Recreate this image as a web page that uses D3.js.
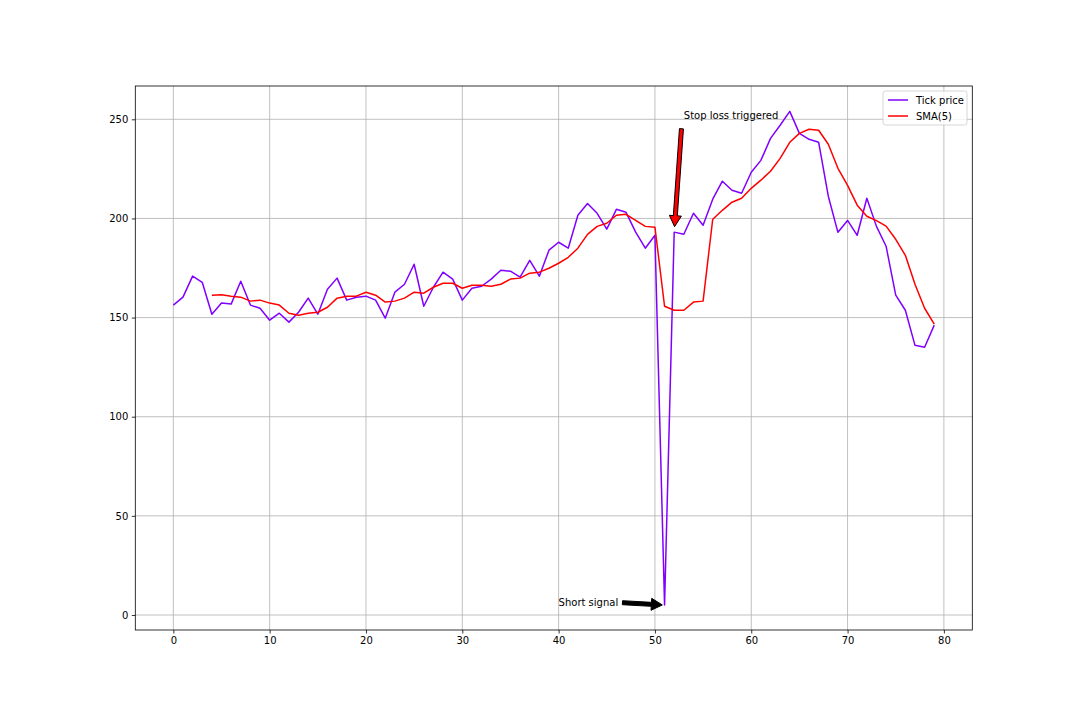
<!DOCTYPE html>
<html><head><meta charset="utf-8">
<script src="https://cdn.jsdelivr.net/npm/d3@7"></script>
<style>body{margin:0;background:#fff;} text{font-family:"DejaVu Sans",sans-serif;}</style>
</head><body><svg id="chart" width="1080" height="720"></svg>
<script>
const tickPrice = [156.3,160.3,170.9,167.8,151.7,157.3,156.8,168.3,156.3,154.7,
148.7,152.2,147.7,152.7,159.8,151.7,164.3,169.9,158.8,160.3,
160.8,158.8,149.7,162.8,166.8,176.9,155.7,165.3,172.9,169.4,
158.8,164.8,165.8,169.4,173.9,173.4,170.4,178.9,170.9,184.0,
188.0,185.0,201.6,207.5,202.6,194.6,204.6,203.1,193.1,185.0,
191.5,5.0,193.1,192.0,202.6,196.6,209.7,218.8,214.2,212.7,
223.3,229.3,240.4,247.0,254.0,242.9,239.9,238.4,211.2,193.0,
199.0,191.5,210.2,196.0,186.0,161.3,153.7,136.0,135.0,146.2];
const smaStart = 4;
const sma5 = [161.3,161.5,160.8,160.3,158.3,158.8,157.3,156.3,152.2,151.2,
152.2,152.7,155.2,159.8,160.8,160.8,162.8,161.3,157.8,158.3,
159.8,162.8,162.3,165.3,167.3,167.3,164.8,166.3,166.3,165.8,
166.8,169.4,169.9,172.4,172.9,174.9,177.4,180.4,185.0,192.0,
196.0,197.6,201.6,202.1,199.0,196.0,195.6,155.7,153.7,153.7,
157.8,158.3,199.6,204.1,208.2,210.2,215.2,219.3,223.8,230.3,
238.4,242.9,245.0,244.5,237.4,225.3,216.7,206.7,201.1,198.9,
196.1,189.5,181.4,166.8,154.7,146.7];
const xTicks = [0,10,20,30,40,50,60,70,80];
const yTicks = [0,50,100,150,200,250];
const seriesNames = ["Tick price","SMA(5)"];
const seriesColors = ["#8000ff","#ff0000"];
const annotations = [
  {text:"Short signal", xi:51, tx:40, ty:4.5, fill:"#000000"},
  {text:"Stop loss triggered", xi:52, tx:53, ty:250, fill:"#ff0000"}
];

const svg = d3.select("#chart");
const L=135.3, R=972.3, T=86, B=630;
const x = d3.scaleLinear().domain([-3.95,82.95]).range([L,R]);
const y = d3.scaleLinear().domain([-7.57,266.8]).range([B,T]);

// grid
const g = svg.append("g");
g.selectAll(".vg").data(xTicks).join("line")
 .attr("x1",d=>x(d)).attr("x2",d=>x(d)).attr("y1",T).attr("y2",B)
 .attr("stroke","#b0b0b0").attr("stroke-width",0.8);
g.selectAll(".hg").data(yTicks).join("line")
 .attr("y1",d=>y(d)).attr("y2",d=>y(d)).attr("x1",L).attr("x2",R)
 .attr("stroke","#b0b0b0").attr("stroke-width",0.8);

// axes
const xAxis = d3.axisBottom(x).tickValues(xTicks).tickSize(3.5).tickPadding(3.5).tickFormat(d3.format("d"));
const yAxis = d3.axisLeft(y).tickValues(yTicks).tickSize(3.5).tickPadding(3.5).tickFormat(d3.format("d"));
const gx = svg.append("g").attr("transform",`translate(0,${B})`).call(xAxis);
const gy = svg.append("g").attr("transform",`translate(${L},0)`).call(yAxis);
[gx,gy].forEach(a=>{
  a.select(".domain").remove();
  a.selectAll("line").attr("stroke","#000").attr("stroke-width",0.8);
  a.selectAll("text").attr("font-size",10).attr("fill","#000").style("font-family","DejaVu Sans");
});

// lines
const clip = svg.append("clipPath").attr("id","clip").append("rect")
 .attr("x",L).attr("y",T).attr("width",R-L).attr("height",B-T);
const line = d3.line().x(d=>x(d[0])).y(d=>y(d[1]));
svg.append("path").datum(tickPrice.map((v,i)=>[i,v]))
 .attr("d",line).attr("fill","none").attr("stroke",seriesColors[0]).attr("stroke-width",1.5)
 .attr("stroke-linejoin","round").attr("clip-path","url(#clip)");
svg.append("path").datum(sma5.map((v,i)=>[i+smaStart,v]))
 .attr("d",line).attr("fill","none").attr("stroke",seriesColors[1]).attr("stroke-width",1.5)
 .attr("stroke-linejoin","round").attr("clip-path","url(#clip)");

// spines
svg.append("rect").attr("x",L).attr("y",T).attr("width",R-L).attr("height",B-T)
 .attr("fill","none").attr("stroke","#000").attr("stroke-width",0.8);

// annotations
annotations.forEach(a=>{
  const t = svg.append("text").attr("x",x(a.tx)).attr("y",y(a.ty))
   .attr("font-size",10).attr("fill","#000").text(a.text);
  const b0 = t.node().getBBox();
  const pad = 2;
  const bb = {x:b0.x-pad, y:b0.y-pad, width:b0.width+2*pad, height:b0.height+2*pad};
  const px = x(a.xi), py = y(tickPrice[a.xi]);
  const cands = (lo,w,target)=>{const c=[lo,lo+w/2,lo+w];return c.reduce((p,q)=>Math.abs(q-target)<Math.abs(p-target)?q:p);};
  const sx = cands(bb.x,bb.width,px), sy = cands(bb.y,bb.height,py);
  const dx=px-sx, dy=py-sy, len=Math.hypot(dx,dy);
  const ux=dx/len, uy=dy/len;
  const s=0.05*len;
  const x0=sx+ux*s, y0=sy+uy*s, x1=px-ux*s, y1=py-uy*s;
  const w=2, hw=6, hl=11;
  const nx=-uy, ny=ux;
  const bx=x1-ux*hl, by=y1-uy*hl;
  const pts=[[x0+nx*w,y0+ny*w],[bx+nx*w,by+ny*w],[bx+nx*hw,by+ny*hw],[x1,y1],
             [bx-nx*hw,by-ny*hw],[bx-nx*w,by-ny*w],[x0-nx*w,y0-ny*w]];
  svg.append("polygon").attr("points",pts.map(p=>p.join(",")).join(" "))
   .attr("fill",a.fill).attr("stroke","#000").attr("stroke-width",1).attr("stroke-linejoin","miter");
});

// legend
const lg = svg.append("g");
lg.append("rect").attr("x",883).attr("y",91).attr("width",84).attr("height",34).attr("rx",2.5)
 .attr("fill","#fff").attr("fill-opacity",0.8).attr("stroke","#cccccc").attr("stroke-width",0.8);
seriesNames.forEach((n,i)=>{
  const yy = 100 + i*16;
  lg.append("line").attr("x1",888).attr("x2",908).attr("y1",yy).attr("y2",yy)
   .attr("stroke",seriesColors[i]).attr("stroke-width",1.5);
  lg.append("text").attr("x",916).attr("y",yy+3.5).attr("font-size",10).attr("fill","#000").text(n);
});
</script></body></html>
